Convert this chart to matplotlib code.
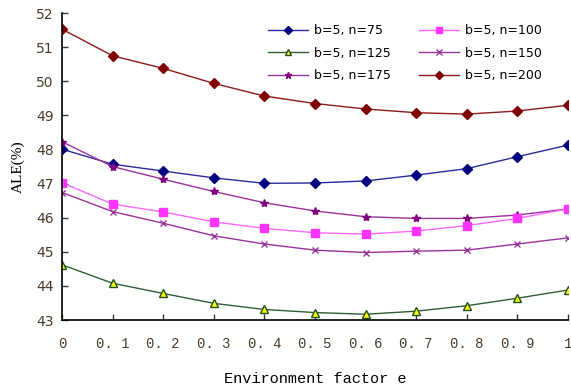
import matplotlib
matplotlib.use('Agg')
import matplotlib.pyplot as plt

# environment factor e
e = [0, 0.1, 0.2, 0.3, 0.4, 0.5, 0.6, 0.7, 0.8, 0.9, 1.0]
xlabels = ['0', '0. 1', '0. 2', '0. 3', '0. 4', '0. 5', '0. 6', '0. 7', '0. 8', '0. 9', '1']

# ALE(%) for each series
n75 = [48.01, 47.57, 47.37, 47.17, 47.01, 47.02, 47.08, 47.25, 47.44, 47.79, 48.13]
n100 = [47.03, 46.40, 46.17, 45.88, 45.69, 45.56, 45.52, 45.61, 45.77, 45.98, 46.26]
n125 = [44.62, 44.08, 43.78, 43.49, 43.31, 43.22, 43.17, 43.26, 43.42, 43.64, 43.88]
n150 = [46.74, 46.18, 45.84, 45.47, 45.23, 45.05, 44.98, 45.02, 45.05, 45.23, 45.41]
n175 = [48.23, 47.50, 47.13, 46.77, 46.44, 46.20, 46.03, 45.98, 45.98, 46.08, 46.26]
n200 = [51.53, 50.75, 50.38, 49.94, 49.57, 49.35, 49.19, 49.08, 49.04, 49.13, 49.30]

fig = plt.figure(figsize=(5.71, 3.87), dpi=100)
ax = fig.add_axes([0.1086, 0.173, 0.886, 0.793])

# plotted in column order so the 2-col legend reads row by row
ax.plot(e, n75, color='#2a2a9a', marker='D', markersize=5, mfc='#000080', mec='#000080', lw=1, label='b=5, n=75')
ax.plot(e, n125, color='#2f5f2f', marker='^', markersize=6, mfc='#ffff00', mec='#1f4f1f', lw=1, label='b=5, n=125')
ax.plot(e, n175, color='#993399', marker='*', markersize=6, mfc='#800080', mec='#800080', lw=1, label='b=5, n=175')
ax.plot(e, n100, color='#ff66ff', marker='s', markersize=6, mfc='#ff33ff', mec='#ff33ff', lw=1, label='b=5, n=100')
ax.plot(e, n150, color='#993399', marker='x', markersize=5, mfc='#993399', mec='#993399', lw=1, label='b=5, n=150')
ax.plot(e, n200, color='#8b1a1a', marker='D', markersize=5, mfc='#800000', mec='#800000', lw=1, label='b=5, n=200')

ax.set_xlim(0, 1)
ax.set_ylim(43, 52)
ax.set_xticks(e)
ax.set_xticklabels(xlabels, family='Liberation Mono', fontsize=10)
ax.set_yticks(range(43, 53))
ax.tick_params(axis='both', direction='in', length=4, width=1, colors='#333333', labelcolor='#4a3a2a')
ax.tick_params(axis='x', pad=12)
ax.tick_params(axis='y', labelsize=10, pad=6)

for s in ['top', 'right']:
    ax.spines[s].set_visible(False)
for s in ['left', 'bottom']:
    ax.spines[s].set_linewidth(1.2)

ax.set_xlabel('Environment factor e', family='Liberation Mono', fontsize=11, labelpad=15)
ax.set_ylabel('ALE(%)', family='Liberation Serif', fontsize=11, labelpad=8)

ax.legend(ncol=2, frameon=False, fontsize=9, loc='upper left',
          bbox_to_anchor=(0.385, 1.0), handlelength=3.2, handletextpad=0.5,
          columnspacing=2.2, labelspacing=0.75, markerscale=0.8)

fig.savefig('out.png', dpi=100)
